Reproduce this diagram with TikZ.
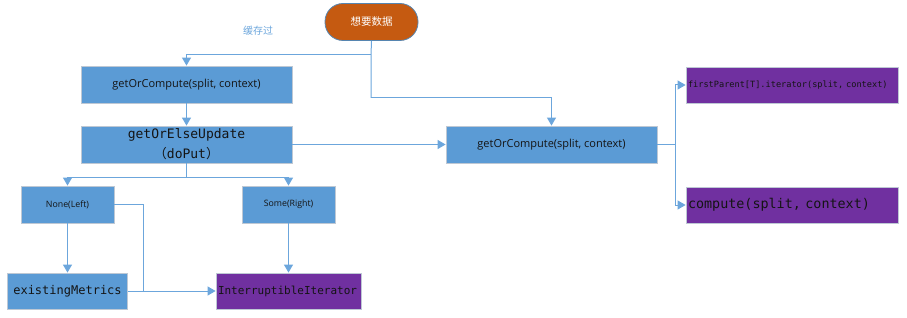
\documentclass[tikz,border=0pt]{standalone}
\usepackage{fontspec}
\setmainfont{Open Sans}
\newfontfamily\cjk{Noto Sans CJK SC}
\newfontfamily\codefont{DejaVu Sans Mono}
\usetikzlibrary{arrows.meta,positioning}
\definecolor{FlowBlue}{RGB}{91,155,213}
\definecolor{LineBlue}{RGB}{108,166,220}
\definecolor{CallPurple}{RGB}{112,48,160}
\definecolor{StartOrange}{RGB}{197,90,17}
\definecolor{EdgeGray}{RGB}{190,200,212}
\definecolor{TextDark}{RGB}{20,20,20}

\begin{document}
\begin{tikzpicture}[x=1pt,y=-1pt,>={Triangle[length=8pt,width=9pt]},
    flow/.style={draw=LineBlue,line width=1pt},
    blk/.style={draw=EdgeGray,line width=0.8pt,fill=FlowBlue,text=TextDark,
      minimum width=211pt,minimum height=37pt,inner sep=1pt,
      font=\fontsize{11}{13}\selectfont},
    small/.style={blk,minimum width=93pt,font=\fontsize{8.8}{10}\selectfont},
    call/.style={blk,fill=CallPurple,align=left,inner sep=2pt,font=\codefont}]
  \useasboundingbox (0,0) rectangle (907,318);
  \node[draw=LineBlue!80!black,line width=0.8pt,fill=StartOrange,text=white,
    rounded corners=18pt,minimum width=93pt,minimum height=37pt,
    font=\cjk\fontsize{10.5}{12}\selectfont] (want) at (371.5,22) {想要数据};
  \node[text=LineBlue,font=\cjk\fontsize{10}{12}\selectfont] (cached) at (258,31) {缓存过};

  \node[blk] (getc) at (186.5,84.5) {getOrCompute(split, context)};
  \node[blk,align=center,font=\codefont\fontsize{13}{20}\selectfont] (upd) at (186.5,144.5)
    {getOrElseUpdate\\{\cjk （}doPut{\cjk ）}};
  \node[blk] (getr) at (551.5,144.5) {getOrCompute(split, context)};
  \node[call,minimum width=212pt,minimum height=36pt,text width=208pt,
    font=\codefont\fontsize{8.6}{10}\selectfont] (parent) at (792,85)
    {firstParent[T].iterator(split, context)};
  \node[call,minimum width=212pt,minimum height=36pt,text width=208pt,
    font=\codefont\fontsize{13.4}{15}\selectfont] (comp) at (792,205)
    {compute(split, context)};

  \node[small] (none) at (67.5,204.5) {None(Left)};
  \node[small] (some) at (288.5,204.5) {Some(Right)};
  \node[blk,minimum width=120pt,minimum height=36pt,
    font=\codefont\fontsize{12}{14}\selectfont] (exist) at (67.5,291) {existingMetrics};
  \node[call,minimum width=145pt,minimum height=36pt,text width=141pt,
    font=\codefont\fontsize{11}{13}\selectfont] (intr) at (288.5,291) {InterruptibleIterator};

  % top split
  \coordinate (hit) at (371,55);
  \coordinate (miss) at (371,98);
  \draw[flow] (want.south) -- (hit) -- (miss);
  \draw[flow,->] (hit) -| (getc.north);
  \draw[flow,->] (miss) -| (getr.north);
  \draw[flow,->] (getc) -- (upd);
  \draw[flow,->] (upd) -- (getr);

  \coordinate (fork) at (675,144.5);
  \draw[flow] (getr.east) -- (fork);
  \draw[flow,->] (fork) |- (parent.west);
  \draw[flow,->] (fork) |- (comp.west);

  \coordinate (opt) at (186.5,177);
  \draw[flow] (upd.south) -- (opt);
  \draw[flow,->] (opt) -| (none.north);
  \draw[flow,->] (opt) -| (some.north);
  \draw[flow,->] (none) -- (exist);
  \draw[flow,->] (some) -- (intr);

  \coordinate (join) at (143,291);
  \draw[flow] (none.east) -| (join);
  \draw[flow,->] (exist.east) -- (intr.west);
\end{tikzpicture}
\end{document}
